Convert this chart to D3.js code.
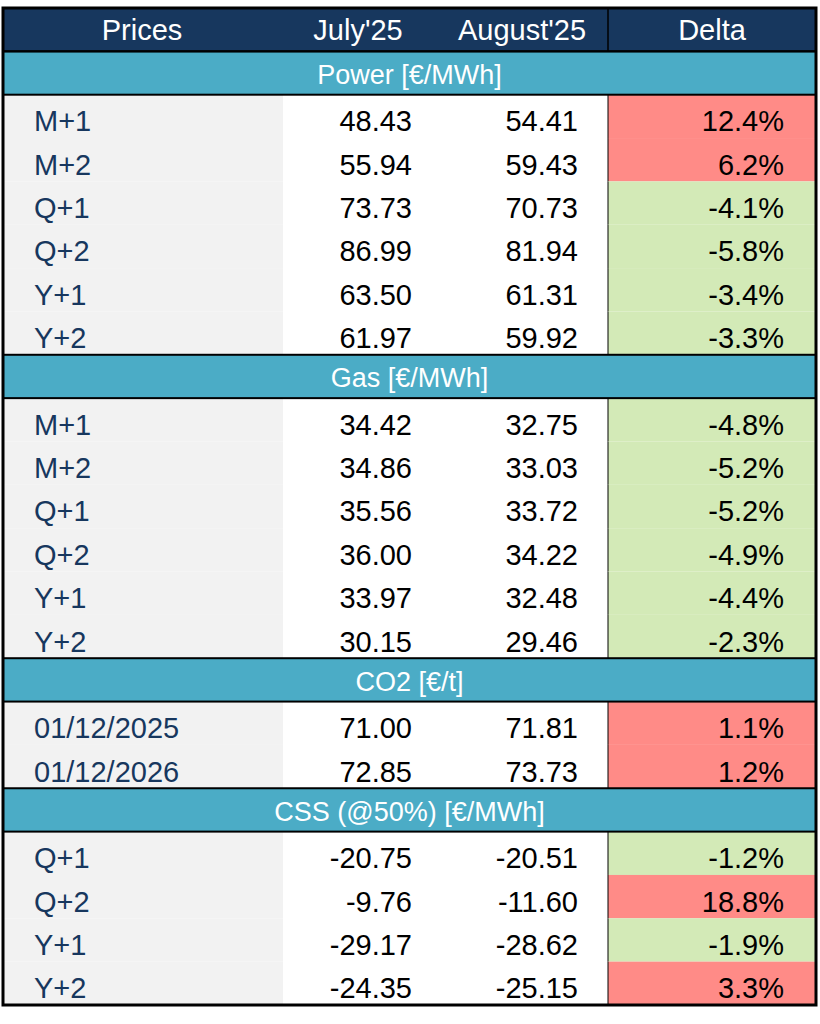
<!DOCTYPE html>
<html><head><meta charset="utf-8">
<script src="https://cdn.jsdelivr.net/npm/d3@7"></script>
<style>body{margin:0;background:#fff}</style>
</head><body><div id="chart"></div>
<script>
const columns = ["Prices", "July'25", "August'25", "Delta"];
const sections = ["Power [€/MWh]", "Gas [€/MWh]", "CO2 [€/t]", "CSS (@50%) [€/MWh]"];
const labels = [
  ["M+1", "M+2", "Q+1", "Q+2", "Y+1", "Y+2"],
  ["M+1", "M+2", "Q+1", "Q+2", "Y+1", "Y+2"],
  ["01/12/2025", "01/12/2026"],
  ["Q+1", "Q+2", "Y+1", "Y+2"]
];
const july = [
  [48.43, 55.94, 73.73, 86.99, 63.50, 61.97],
  [34.42, 34.86, 35.56, 36.00, 33.97, 30.15],
  [71.00, 72.85],
  [-20.75, -9.76, -29.17, -24.35]
];
const august = [
  [54.41, 59.43, 70.73, 81.94, 61.31, 59.92],
  [32.75, 33.03, 33.72, 34.22, 32.48, 29.46],
  [71.81, 73.73],
  [-20.51, -11.60, -28.62, -25.15]
];
const delta = [
  [12.4, 6.2, -4.1, -5.8, -3.4, -3.3],
  [-4.8, -5.2, -5.2, -4.9, -4.4, -2.3],
  [1.1, 1.2],
  [-1.2, 18.8, -1.9, 3.3]
];

// flatten into rows
const rows = [{type: "head"}];
sections.forEach((s, i) => {
  rows.push({type: "sec", text: s});
  labels[i].forEach((l, j) => rows.push({type: "data", label: l, jul: july[i][j], aug: august[i][j], d: delta[i][j]}));
});

const W = 820, H = 1024, x0 = 3, x1 = 816;
const y = d3.scaleBand().domain(d3.range(rows.length)).range([8, 1005]);
const font = "'Liberation Sans', Arial, sans-serif";
const navy = "#17375e", teal = "#4bacc6", red = "#ff8b87", green = "#d3eab7";

const svg = d3.select("#chart").append("svg").attr("width", W).attr("height", H);
const g = svg.selectAll("g.row").data(rows).enter().append("g")
  .attr("transform", (d, i) => `translate(0,${y(i)})`);
const h = y.bandwidth();

g.each(function(d) {
  const r = d3.select(this);
  if (d.type === "head") {
    r.append("rect").attr("x", x0).attr("width", x1 - x0).attr("height", h).attr("fill", navy);
    r.append("line").attr("x1", 608).attr("x2", 608).attr("y2", h).attr("stroke", "#000").attr("stroke-width", 1.5);
    const cx = [142, 358, 522, 712];
    columns.forEach((c, k) => r.append("text").attr("x", cx[k]).attr("y", h / 2 + 10)
      .attr("text-anchor", "middle").attr("fill", "#fff").attr("font-size", 29).attr("font-family", font).text(c));
  } else if (d.type === "sec") {
    r.append("rect").attr("x", x0).attr("width", x1 - x0).attr("height", h).attr("fill", teal);
    r.append("text").attr("x", (x0 + x1) / 2).attr("y", h / 2 + 11).attr("text-anchor", "middle")
      .attr("fill", "#fff").attr("font-size", 27).attr("font-family", font).text(d.text);
  } else {
    r.append("rect").attr("x", x0).attr("width", 280).attr("height", h).attr("fill", "#f2f2f2");
    r.append("rect").attr("x", 608).attr("width", x1 - 608).attr("height", h).attr("fill", d.d > 0 ? red : green);
    r.append("line").attr("x1", 608).attr("x2", 608).attr("y2", h).attr("stroke", "#000").attr("stroke-width", 1);
    r.append("text").attr("x", 34).attr("y", h / 2 + 15).attr("fill", navy).attr("font-size", 29).attr("font-family", font).text(d.label);
    const vals = [[412, d.jul.toFixed(2)], [578, d.aug.toFixed(2)], [784, d.d.toFixed(1) + "%"]];
    vals.forEach(([x, t]) => r.append("text").attr("x", x).attr("y", h / 2 + 15).attr("text-anchor", "end")
      .attr("fill", "#000").attr("font-size", 29).attr("font-family", font).text(t));
  }
});

// borders around header and section bands
rows.forEach((d, i) => {
  if (d.type !== "data") {
    svg.append("rect").attr("x", x0).attr("y", y(i)).attr("width", x1 - x0).attr("height", h)
      .attr("fill", "none").attr("stroke", "#000").attr("stroke-width", 2);
  }
});
svg.append("rect").attr("x", x0).attr("y", 8).attr("width", x1 - x0).attr("height", 1005 - 8)
  .attr("fill", "none").attr("stroke", "#000").attr("stroke-width", 3);
</script></body></html>
